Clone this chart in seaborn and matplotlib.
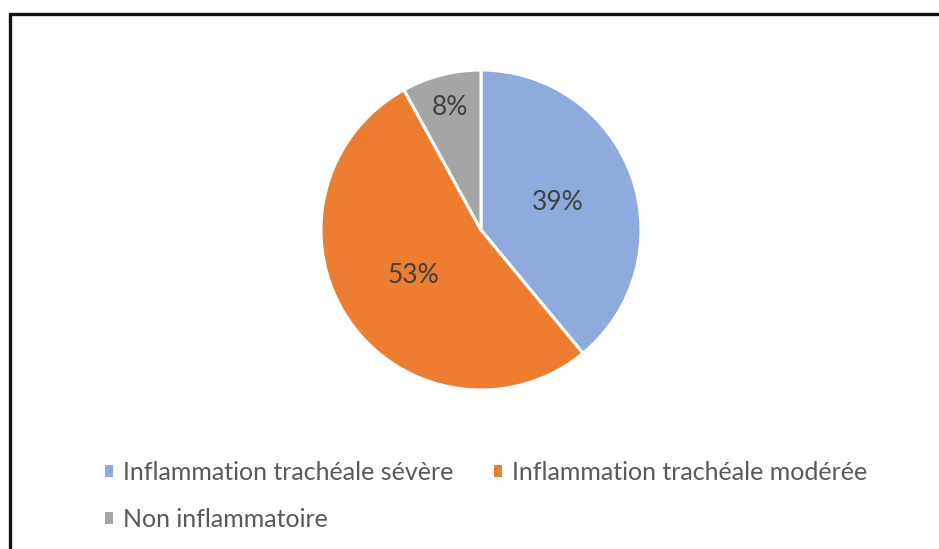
import matplotlib
matplotlib.use("Agg")
import numpy as np
import matplotlib.pyplot as plt
import seaborn as sns
from matplotlib.lines import Line2D

# Données
categories = ["Inflammation trachéale sévère",
              "Inflammation trachéale modérée",
              "Non inflammatoire"]
pourcentages = [39, 53, 8]
couleurs = ["#8FAADC", "#ED7D31", "#A5A5A5"]

sns.set_theme(style="white")
plt.rcParams['font.family'] = ['Lato', 'DejaVu Sans']

W, H = 939, 549
fig = plt.figure(figsize=(W / 100, H / 100), dpi=100)

# axe carré qui contient le camembert
cx, cy, r = 481, 230, 160
ax = fig.add_axes([(cx - r) / W, 1 - (cy + r) / H, 2 * r / W, 2 * r / H])
wedges, _ = ax.pie(pourcentages, colors=couleurs, startangle=90, counterclock=False,
                   radius=1, wedgeprops=dict(edgecolor="white", linewidth=2.2))
ax.set_xlim(-1, 1)
ax.set_ylim(-1, 1)
ax.axis("off")

# étiquettes de pourcentage
distances = [0.51, 0.51, 0.79]
for w, p, d in zip(wedges, pourcentages, distances):
    ang = np.deg2rad((w.theta1 + w.theta2) / 2)
    ax.text(d * np.cos(ang), d * np.sin(ang), f"{p}%", ha="center", va="center",
            fontsize=19, color="#404040")

# légende (ordre pour remplir ligne par ligne)
ordre = [0, 2, 1]
leg = fig.legend([wedges[i] for i in ordre], [categories[i] for i in ordre],
                 loc="upper left", bbox_to_anchor=(105 / W, 1 - 461 / H),
                 ncol=2, frameon=False, fontsize=18, labelcolor="#595959",
                 handlelength=0.33, handleheight=0.33, handletextpad=0.4,
                 columnspacing=1.6, labelspacing=0.95, borderpad=0, borderaxespad=0)
for h in leg.legend_handles:
    h.set_edgecolor("none")

# cadre (haut et gauche visibles)
fig.add_artist(Line2D([9.5 / W, 1.01], [1 - 13.5 / H, 1 - 13.5 / H], color="#111111", lw=2.4,
                      transform=fig.transFigure))
fig.add_artist(Line2D([9.5 / W, 9.5 / W], [1 - 13.5 / H, -0.01], color="#111111", lw=2.4,
                      transform=fig.transFigure))

fig.savefig("out.png", dpi=100, facecolor="white")
